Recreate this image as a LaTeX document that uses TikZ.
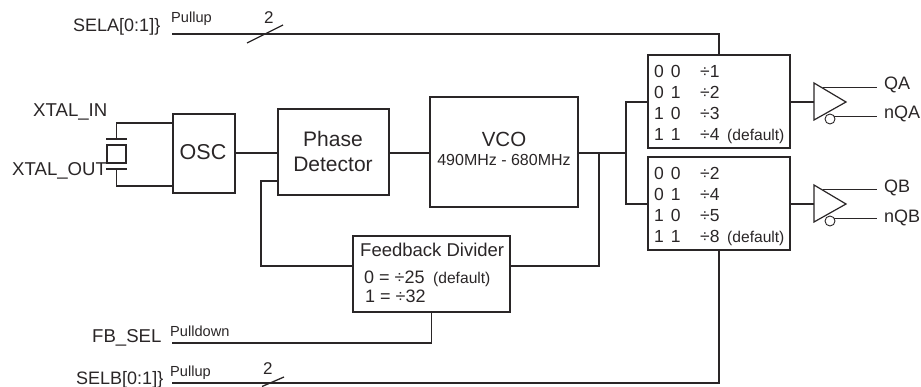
\documentclass[tikz,border=0pt]{standalone}
\usepackage{fontspec}
\setmainfont{Liberation Sans}
\definecolor{ink}{HTML}{2A2627}
\newcommand\fsz[1]{\fontsize{#1}{#1}\selectfont}
\newcommand\digs[1]{\spaceskip=7pt\relax #1}
\tikzset{
  blk/.style={draw=ink,line width=1.4pt,rectangle,inner sep=0pt},
  wire/.style={draw=ink,line width=1.3pt},
  thinwire/.style={draw=ink,line width=0.9pt},
  lab/.style={anchor=base west,inner sep=0pt,text=ink},
  labc/.style={anchor=base,inner sep=0pt,text=ink},
  sig/.style={lab,font=\fsz{18}},
  sigw/.style={lab,font=\fsz{18.6}},
  tiny/.style={lab,font=\fsz{14.6}},
  row/.style={lab,font=\fsz{17.5}},
  dfl/.style={lab,font=\fsz{15.6}},
  inv/.style={draw=ink,line width=1.2pt,fill=white,line join=miter},
  bubble/.style={draw=ink,line width=0.9pt,fill=white,circle,minimum size=10pt,inner sep=0pt},
}
\begin{document}
\begin{tikzpicture}[x=1pt,y=-1pt]
\useasboundingbox (0,0) rectangle (921,387);
% blocks
\node[blk,minimum width=62pt,minimum height=79pt] (osc) at (204,153.5) {};
\node[blk,minimum width=111pt,minimum height=86pt] (pd) at (333.5,152) {};
\node[blk,minimum width=148pt,minimum height=110pt] (vco) at (504,152) {};
\node[blk,minimum width=157pt,minimum height=76pt] (fb) at (431.5,274) {};
\node[blk,minimum width=142pt,minimum height=93pt] (boxa) at (719,101.5) {};
\node[blk,minimum width=142pt,minimum height=93pt] (boxb) at (719,203.5) {};
\node[blk,line width=1.3pt,minimum width=19pt,minimum height=18pt] (xt) at (116.5,154) {};
% coordinates
\coordinate (bufa) at (814,102);
\coordinate (bufb) at (814,204);
\coordinate (sela) at (172,34);
\coordinate (selb) at (172,383);
\coordinate (fbs) at (172,343);
\coordinate (junc) at (626,153);
\coordinate (tap) at (599,153);
\coordinate (pta) at (116.5,139);
\coordinate (ptb) at (116.5,169);
\coordinate (qa) at (877,87);
\coordinate (nqa) at (877,116);
\coordinate (qb) at (877,189);
\coordinate (nqb) at (877,218);
% crystal plates
\draw[wire] (106,139) -- (127,139);
\draw[wire] (106,169) -- (127,169);
% connectors
\draw[wire] (pta) |- (osc.west |- 0,123);
\draw[wire] (ptb) |- (osc.west |- 0,186);
\draw[wire] (osc.east |- 0,153) -- (pd.west |- 0,153);
\draw[wire] (pd.east |- 0,153) -- (vco.west |- 0,153);
\draw[wire] (vco.east |- junc) -- (junc);
\draw[wire] (boxa.west |- bufa) -| (junc) |- (boxb.west |- bufb);
\draw[wire] (tap) |- (fb.east |- 0,266);
\draw[wire] (fb.west |- 0,266) -| (261,181) -- (pd.west |- 0,181);
\draw[wire] (sela) -| (boxa.north);
\draw[wire] (selb) -| (boxb.south);
\draw[wire] (fbs) -| (fb.south);
\draw[wire] (247,43) -- (283,25);
\draw[wire] (262,386.5) -- (284,377);
\draw[wire] (boxa.east |- bufa) -- (bufa);
\draw[wire] (boxb.east |- bufb) -- (bufb);
% buffers
\draw[thinwire] (823,87) -- (qa);
\draw[thinwire] (830,116) -- (nqa);
\draw[thinwire] (823,189) -- (qb);
\draw[thinwire] (830,218) -- (nqb);
\draw[inv] (814,83) -- (814,120) -- (846,102) -- cycle;
\draw[inv] (814,185) -- (814,222) -- (846,204) -- cycle;
\node[bubble] (bba) at (830,119) {};
\node[bubble] (bbb) at (830,221) {};
% left labels
\node[sig] (t1) at (73,32) {SELA[0:1]\}};
\node[tiny] (t2) at (171,23) {Pullup};
\node[lab,font=\fsz{17}] (t3) at (264,24) {2};
\node[sigw] (t4) at (33,117) {XTAL\_IN};
\node[sigw] (t5) at (12,176) {XTAL\_OUT};
\node[sigw] (t6) at (92,342) {FB\_SEL};
\node[tiny] (t7) at (170,337) {Pulldown};
\node[sig] (t8) at (76,384) {SELB[0:1]\}};
\node[tiny] (t9) at (170,376) {Pullup};
\node[lab,font=\fsz{17}] (t10) at (263,374) {2};
% block labels
\node[labc,font=\fsz{21.5}] (t11) at (203,160) {OSC};
\node[labc,font=\fsz{21}] (t12) at (333,147) {Phase};
\node[labc,font=\fsz{21}] (t13) at (333,172) {Detector};
\node[labc,font=\fsz{20.5}] (t14) at (504,147) {VCO};
\node[labc,font=\fsz{16}] (t15) at (504,166) {490MHz - 680MHz};
\node[lab,font=\fsz{18.5}] (t16) at (360,257) {Feedback Divider};
\node[lab,font=\fsz{18}] (t17) at (364,284) {0 = ÷25};
\node[dfl] (t18) at (433,284) {(default)};
\node[lab,font=\fsz{18}] (t19) at (365,303) {1 = ÷32};
% table A
\node[row] (a1) at (654,78) {\digs{0 0}};
\node[row] (a2) at (700,78) {÷1};
\node[row] (a3) at (654,99) {\digs{0 1}};
\node[row] (a4) at (700,99) {÷2};
\node[row] (a5) at (654,120) {\digs{1 0}};
\node[row] (a6) at (700,120) {÷3};
\node[row] (a7) at (654,141) {\digs{1 1}};
\node[row] (a8) at (700,141) {÷4};
\node[dfl] (a9) at (727,141) {(default)};
% table B
\node[row] (b1) at (654,180) {\digs{0 0}};
\node[row] (b2) at (700,180) {÷2};
\node[row] (b3) at (654,201) {\digs{0 1}};
\node[row] (b4) at (700,201) {÷4};
\node[row] (b5) at (654,222) {\digs{1 0}};
\node[row] (b6) at (700,222) {÷5};
\node[row] (b7) at (654,243) {\digs{1 1}};
\node[row] (b8) at (700,243) {÷8};
\node[dfl] (b9) at (727,243) {(default)};
% outputs
\node[sig] (o1) at (884,90) {QA};
\node[sig] (o2) at (884,119) {nQA};
\node[sig] (o3) at (884,193) {QB};
\node[sig] (o4) at (884,223) {nQB};
\end{tikzpicture}
\end{document}
